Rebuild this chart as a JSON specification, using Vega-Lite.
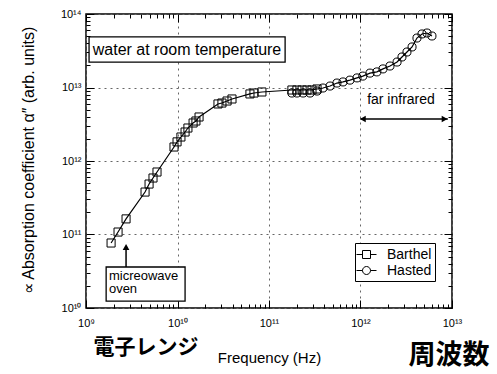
{
  "$schema": "https://vega.github.io/schema/vega-lite/v6.json",
  "width": 366,
  "height": 294,
  "autosize": {"type": "none"},
  "padding": {"left": 86, "top": 14, "right": 45, "bottom": 66},
  "background": "white",
  "config": {
    "view": {"stroke": "black", "strokeWidth": 1.5},
    "font": "Liberation Sans",
    "axis": {"labelFont": "Liberation Sans", "titleFont": "Liberation Sans"}
  },
  "datasets": {
    "pts": [
      {"source": "Barthel", "f": 1.88e9, "a": 7.66e10},
      {"source": "Barthel", "f": 2.24e9, "a": 1.08e11},
      {"source": "Barthel", "f": 2.74e9, "a": 1.63e11},
      {"source": "Barthel", "f": 4.42e9, "a": 3.78e11},
      {"source": "Barthel", "f": 4.89e9, "a": 4.86e11},
      {"source": "Barthel", "f": 5.40e9, "a": 5.87e11},
      {"source": "Barthel", "f": 5.97e9, "a": 7.08e11},
      {"source": "Barthel", "f": 9.16e9, "a": 1.55e12},
      {"source": "Barthel", "f": 9.89e9, "a": 1.82e12},
      {"source": "Barthel", "f": 1.09e10, "a": 2.12e12},
      {"source": "Barthel", "f": 1.21e10, "a": 2.48e12},
      {"source": "Barthel", "f": 1.30e10, "a": 2.81e12},
      {"source": "Barthel", "f": 1.48e10, "a": 3.29e12},
      {"source": "Barthel", "f": 1.59e10, "a": 3.50e12},
      {"source": "Barthel", "f": 1.72e10, "a": 3.97e12},
      {"source": "Barthel", "f": 2.77e10, "a": 5.97e12},
      {"source": "Barthel", "f": 3.06e10, "a": 6.15e12},
      {"source": "Barthel", "f": 3.48e10, "a": 6.55e12},
      {"source": "Barthel", "f": 3.94e10, "a": 6.98e12},
      {"source": "Barthel", "f": 6.19e10, "a": 8.17e12},
      {"source": "Barthel", "f": 6.85e10, "a": 8.41e12},
      {"source": "Barthel", "f": 8.37e10, "a": 8.69e12},
      {"source": "Barthel", "f": 1.78e11, "a": 9.25e12},
      {"source": "Barthel", "f": 2.02e11, "a": 9.25e12},
      {"source": "Barthel", "f": 2.30e11, "a": 9.25e12},
      {"source": "Barthel", "f": 2.60e11, "a": 9.25e12},
      {"source": "Barthel", "f": 2.95e11, "a": 9.25e12},
      {"source": "Barthel", "f": 3.35e11, "a": 9.55e12},
      {"source": "Hasted", "f": 1.78e11, "a": 8.41e12},
      {"source": "Hasted", "f": 2.02e11, "a": 8.41e12},
      {"source": "Hasted", "f": 2.36e11, "a": 8.41e12},
      {"source": "Hasted", "f": 2.81e11, "a": 8.41e12},
      {"source": "Hasted", "f": 3.35e11, "a": 8.95e12},
      {"source": "Hasted", "f": 3.89e11, "a": 9.84e12},
      {"source": "Hasted", "f": 4.65e11, "a": 1.047e13},
      {"source": "Hasted", "f": 5.53e11, "a": 1.15e13},
      {"source": "Hasted", "f": 6.44e11, "a": 1.19e13},
      {"source": "Hasted", "f": 7.67e11, "a": 1.26e13},
      {"source": "Hasted", "f": 9.16e11, "a": 1.35e13},
      {"source": "Hasted", "f": 1.06e12, "a": 1.43e13},
      {"source": "Hasted", "f": 1.27e12, "a": 1.57e13},
      {"source": "Hasted", "f": 1.51e12, "a": 1.63e13},
      {"source": "Hasted", "f": 1.76e12, "a": 1.79e13},
      {"source": "Hasted", "f": 2.10e12, "a": 1.96e13},
      {"source": "Hasted", "f": 2.51e12, "a": 2.22e13},
      {"source": "Hasted", "f": 2.84e12, "a": 2.60e13},
      {"source": "Hasted", "f": 3.22e12, "a": 3.04e13},
      {"source": "Hasted", "f": 3.66e12, "a": 3.56e13},
      {"source": "Hasted", "f": 4.14e12, "a": 4.71e13},
      {"source": "Hasted", "f": 4.70e12, "a": 5.35e13},
      {"source": "Hasted", "f": 5.33e12, "a": 5.51e13},
      {"source": "Hasted", "f": 6.04e12, "a": 5.02e13}
    ],
    "boxes": [
      {"f": 1.08e9, "f2": 1.50e11, "a": 4.87e13, "a2": 2.22e13},
      {"f": 1.66e9, "f2": 1.21e10, "a": 3.61e10, "a2": 1.24e10}
    ],
    "arrows": [
      {"f": 2.74e9, "f2": 2.74e9, "a": 3.61e10, "a2": 6.15e10},
      {"f": 1.0e12, "f2": 9.0e12, "a": 3.73e12, "a2": 3.73e12}
    ]
  },
  "layer": [
    {
      "encoding": {
        "x": {
          "field": "f", "type": "quantitative",
          "scale": {"type": "log", "domain": [1e9, 1e13], "nice": false},
          "axis": {
            "values": [1e9,2e9,3e9,4e9,5e9,6e9,7e9,8e9,9e9,1e10,2e10,3e10,4e10,5e10,6e10,7e10,8e10,9e10,1e11,2e11,3e11,4e11,5e11,6e11,7e11,8e11,9e11,1e12,2e12,3e12,4e12,5e12,6e12,7e12,8e12,9e12,1e13],
            "labelExpr": "(abs(log(datum.value)/LN10 - round(log(datum.value)/LN10)) < 0.01) ? '10' + ['⁹','¹⁰','¹¹','¹²','¹³','¹⁴'][round(log(datum.value)/LN10) - 9] : ''",
            "labelOverlap": false,
            "labelFlush": false,
            "labelFontSize": 11,
            "labelColor": "black",
            "labelPadding": 17,
            "title": "Frequency (Hz)",
            "titleFontSize": 15,
            "titleFontWeight": "normal",
            "titleColor": "black",
            "titleY": 54,
            "titleBaseline": "alphabetic",
            "grid": true,
            "gridColor": "#666",
            "gridDash": [2, 4],
            "gridOpacity": {"condition": {"test": "abs(log(datum.value)/LN10 - round(log(datum.value)/LN10)) < 0.01", "value": 1}, "value": 0},
            "tickSize": {"condition": {"test": "abs(log(datum.value)/LN10 - round(log(datum.value)/LN10)) < 0.01", "value": -8}, "value": -4},
            "tickColor": "black",
            "domain": false
          }
        },
        "y": {
          "field": "a", "type": "quantitative",
          "scale": {"type": "log", "domain": [1e10, 1e14], "nice": false},
          "axis": {
            "values": [1e10,2e10,3e10,4e10,5e10,6e10,7e10,8e10,9e10,1e11,2e11,3e11,4e11,5e11,6e11,7e11,8e11,9e11,1e12,2e12,3e12,4e12,5e12,6e12,7e12,8e12,9e12,1e13,2e13,3e13,4e13,5e13,6e13,7e13,8e13,9e13,1e14],
            "labelExpr": "(abs(log(datum.value)/LN10 - round(log(datum.value)/LN10)) < 0.01) ? '10' + ['⁹','¹⁰','¹¹','¹²','¹³','¹⁴'][round(log(datum.value)/LN10) - 9] : ''",
            "labelOverlap": false,
            "labelFlush": false,
            "labelFontSize": 11,
            "labelColor": "black",
            "labelPadding": 13,
            "title": "∝ Absorption coefficient α″ (arb. units)",
            "titleFontSize": 16,
            "titleFontWeight": "normal",
            "titleColor": "black",
            "titleX": -53,
            "titleY": 146,
            "titleBaseline": "alphabetic",
            "grid": true,
            "gridColor": "#666",
            "gridDash": [2, 4],
            "gridOpacity": {"condition": {"test": "abs(log(datum.value)/LN10 - round(log(datum.value)/LN10)) < 0.01", "value": 1}, "value": 0},
            "tickSize": {"condition": {"test": "abs(log(datum.value)/LN10 - round(log(datum.value)/LN10)) < 0.01", "value": -8}, "value": -4},
            "tickColor": "black",
            "domain": false
          }
        }
      },
      "layer": [
        {
          "data": {"name": "boxes"},
          "mark": {"type": "rect", "fill": "white", "stroke": "black", "strokeWidth": 1.3},
          "encoding": {"x2": {"field": "f2"}, "y2": {"field": "a2"}}
        },
        {
          "data": {"name": "pts"},
          "transform": [{"filter": "datum.source === 'Barthel' || datum.f > 3.4e11"}],
          "mark": {"type": "line", "color": "black", "strokeWidth": 1.2}
        },
        {
          "data": {"name": "pts"},
          "mark": {"type": "point", "filled": false, "color": "black", "strokeWidth": 1, "size": 65, "opacity": 1},
          "encoding": {
            "shape": {
              "field": "source", "type": "nominal",
              "scale": {"domain": ["Barthel", "Hasted"], "range": ["square", "circle"]},
              "legend": null
            }
          }
        },
        {
          "data": {"name": "pts"},
          "mark": {"type": "point", "filled": false, "color": "black", "strokeWidth": 1, "opacity": 0},
          "encoding": {
            "shape": {
              "field": "source", "type": "nominal",
              "scale": {"domain": ["Barthel", "Hasted"], "range": ["M-1.25,0H-0.5M0.5,0H1.25M-0.5,-0.5H0.5V0.5H-0.5Z", "M-1.25,0H-0.5M0.5,0H1.25M-0.5,0A0.5,0.5,0,1,1,0.5,0A0.5,0.5,0,1,1,-0.5,0Z"]},
              "legend": {
                "title": null,
                "orient": "none",
                "legendX": 269,
                "legendY": 229,
                "strokeColor": "black",
                "fillColor": "white",
                "padding": 3,
                "rowPadding": 0,
                "labelFontSize": 14,
                "labelColor": "black",
                "labelFont": "Liberation Sans",
                "labelOffset": 12,
                "symbolSize": 256,
                "symbolOpacity": 1,
                "symbolStrokeWidth": 1,
                "symbolStrokeColor": "black",
                "symbolFillColor": "transparent"
              }
            }
          }
        },
        {
          "data": {"name": "arrows"},
          "mark": {"type": "rule", "color": "black", "strokeWidth": 1.5},
          "encoding": {"x2": {"field": "f2"}, "y2": {"field": "a2"}}
        },
        {
          "data": {"values": [{"f": 2.74e9, "a": 6.76e10}]},
          "mark": {"type": "point", "shape": "triangle-up", "filled": true, "color": "black", "size": 45, "opacity": 1}
        },
        {
          "data": {"values": [{"f": 1.06e12, "a": 3.73e12}]},
          "mark": {"type": "point", "shape": "triangle-left", "filled": true, "color": "black", "size": 45, "opacity": 1}
        },
        {
          "data": {"values": [{"f": 8.3e12, "a": 3.73e12}]},
          "mark": {"type": "point", "shape": "triangle-right", "filled": true, "color": "black", "size": 45, "opacity": 1}
        },
        {
          "data": {"values": [{"f": 1.27e10, "a": 3.24e13, "t": "water at room temperature"}]},
          "mark": {"type": "text", "fontSize": 16, "color": "black", "align": "center", "baseline": "middle"},
          "encoding": {"text": {"field": "t"}}
        },
        {
          "data": {"values": [{"f": 1.78e9, "a": 2.76e10, "t": "micreowave"}, {"f": 1.78e9, "a": 1.80e10, "t": "oven"}]},
          "mark": {"type": "text", "fontSize": 13, "color": "black", "align": "left", "baseline": "middle"},
          "encoding": {"text": {"field": "t"}}
        },
        {
          "data": {"values": [{"f": 2.77e12, "a": 6.76e12, "t": "far infrared"}]},
          "mark": {"type": "text", "fontSize": 14, "color": "black", "align": "center", "baseline": "middle"},
          "encoding": {"text": {"field": "t"}}
        },
        {
          "data": {"values": [{"f": 4.53e9, "a": 2.9e9, "t": "電子レンジ"}]},
          "mark": {"type": "text", "fontSize": 21, "font": "Noto Sans CJK JP", "fontWeight": "bold", "color": "black", "align": "center", "baseline": "middle"},
          "encoding": {"text": {"field": "t"}}
        },
        {
          "data": {"values": [{"f": 9.27e12, "a": 2.2e9, "t": "周波数"}]},
          "mark": {"type": "text", "fontSize": 27, "font": "Noto Sans CJK JP", "fontWeight": "bold", "color": "black", "align": "center", "baseline": "middle"},
          "encoding": {"text": {"field": "t"}}
        }
      ],
      "resolve": {"scale": {"shape": "independent"}}
    },
    {
      "data": {"name": "pts"},
      "mark": {"type": "point", "opacity": 0},
      "encoding": {
        "x": {
          "field": "f", "type": "quantitative",
          "scale": {"type": "log", "domain": [1e9, 1e13], "nice": false},
          "axis": {
            "orient": "top",
            "values": [1e9,2e9,3e9,4e9,5e9,6e9,7e9,8e9,9e9,1e10,2e10,3e10,4e10,5e10,6e10,7e10,8e10,9e10,1e11,2e11,3e11,4e11,5e11,6e11,7e11,8e11,9e11,1e12,2e12,3e12,4e12,5e12,6e12,7e12,8e12,9e12,1e13],
            "labels": false,
            "title": null,
            "grid": false,
            "domain": false,
            "tickColor": "black",
            "tickSize": {"condition": {"test": "abs(log(datum.value)/LN10 - round(log(datum.value)/LN10)) < 0.01", "value": -8}, "value": -4}
          }
        },
        "y": {
          "field": "a", "type": "quantitative",
          "scale": {"type": "log", "domain": [1e10, 1e14], "nice": false},
          "axis": {
            "orient": "right",
            "values": [1e10,2e10,3e10,4e10,5e10,6e10,7e10,8e10,9e10,1e11,2e11,3e11,4e11,5e11,6e11,7e11,8e11,9e11,1e12,2e12,3e12,4e12,5e12,6e12,7e12,8e12,9e12,1e13,2e13,3e13,4e13,5e13,6e13,7e13,8e13,9e13,1e14],
            "labels": false,
            "title": null,
            "grid": false,
            "domain": false,
            "tickColor": "black",
            "tickSize": {"condition": {"test": "abs(log(datum.value)/LN10 - round(log(datum.value)/LN10)) < 0.01", "value": -8}, "value": -4}
          }
        }
      }
    }
  ],
  "resolve": {"axis": {"x": "independent", "y": "independent"}}
}
